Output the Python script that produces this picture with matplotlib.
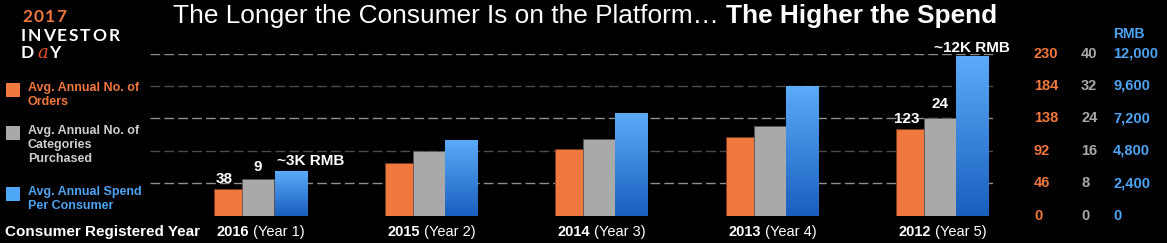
import numpy as np
import matplotlib.pyplot as plt
from matplotlib.colors import LinearSegmentedColormap
from matplotlib.transforms import blended_transform_factory

plt.rcParams['font.family'] = ['Liberation Sans', 'DejaVu Sans']

years = ['2016', '2015', '2014', '2013', '2012']
year_no = ['(Year 1)', '(Year 2)', '(Year 3)', '(Year 4)', '(Year 5)']
orders = [38, 75, 94, 111, 123]
categories = [9, 16, 19, 22, 24]
spend = [3300, 5600, 7600, 9600, 11800]

orders_ticks = [0, 46, 92, 138, 184, 230]
cat_ticks = [0, 8, 16, 24, 32, 40]
spend_ticks = [0, 2400, 4800, 7200, 9600, 12000]
spend_tick_labels = ['0', '2,400', '4,800', '7,200', '9,600', '12,000']

ORANGE = '#f0773e'
GRAY = '#a8a9a8'
BLUE_TXT = '#4fa3f3'

fig = plt.figure(figsize=(11.67, 2.43), dpi=100)
fig.patch.set_facecolor('black')

ax = fig.add_axes([150 / 1167, 1 - 215.7 / 243, 843 / 1167, 162.2 / 243])
ax.set_facecolor('black')
ax2 = ax.twinx()
ax3 = ax.twinx()

x = np.arange(len(years))
w = 0.188
xlim = (-0.635, 4.311)

# grid lines, alternating shades
for i, t in enumerate(orders_ticks[1:]):
    c = '#8e8e8e' if i % 2 == 0 else '#4c4c4c'
    ax.axhline(t, color=c, lw=1, dashes=(7, 3), zorder=0)

ax.bar(x - 0.164, orders, w, color=ORANGE, edgecolor='#7a3a1c', lw=0.6, zorder=2)
ax2.bar(x, categories, w, color=GRAY, edgecolor='#555555', lw=0.6, zorder=2)

cmap = LinearSegmentedColormap.from_list('bl', ['#1a5fbf', '#5aabf8'])
grad = np.linspace(0, 1, 100).reshape(-1, 1)
for xi, v in zip(x + 0.1895, spend):
    ax3.imshow(grad, extent=(xi - w / 2, xi + w / 2, 0, v), origin='lower',
               aspect='auto', cmap=cmap, zorder=2)

ax.set_ylim(0, orders_ticks[-1])
ax2.set_ylim(0, cat_ticks[-1])
ax3.set_ylim(0, spend_ticks[-1])
for a in (ax, ax2, ax3):
    a.set_xlim(*xlim)
    a.set_xticks([])
    a.set_yticks([])
    for s in a.spines.values():
        s.set_visible(False)

# value labels
lbl = dict(color='white', fontsize=11, fontweight='bold', ha='center', va='bottom',
           textcoords='offset points', annotation_clip=False)
ax.annotate(str(orders[0]), (x[0] - 0.2, orders[0]), xytext=(0, 2), **lbl)
ax2.annotate(str(categories[0]), (x[0], categories[0]), xytext=(0, 4), **lbl)
ax3.annotate('~3K RMB', (x[0] + 0.31, spend[0]), xytext=(0, 2), **lbl)
ax.annotate(str(orders[-1]), (x[-1] - 0.195, orders[-1]), xytext=(0, 2), **lbl)
ax2.annotate(str(categories[-1]), (x[-1], categories[-1]), xytext=(0, 5), **lbl)
ax3.annotate('~12K RMB', (x[-1] + 0.19, spend[-1]), xytext=(0, 1), **lbl)

# right-hand tick columns
for a, ticks, labs, fx, col in [
        (ax, orders_ticks, [str(t) for t in orders_ticks], 1034, ORANGE),
        (ax2, cat_ticks, [str(t) for t in cat_ticks], 1081, GRAY),
        (ax3, spend_ticks, spend_tick_labels, 1113, BLUE_TXT)]:
    tr = blended_transform_factory(fig.transFigure, a.transData)
    for t, s in zip(ticks, labs):
        fig.text(fx / 1167, t, s, transform=tr, color=col, fontsize=10.5,
                 fontweight='bold', ha='left', va='center')
fig.text(1113 / 1167, 1 - 34 / 243, 'RMB', color=BLUE_TXT, fontsize=10,
         fontweight='bold', ha='left', va='center')

# x labels
tr = blended_transform_factory(ax.transData, ax.transAxes)
for xi, yr, yn in zip(x, years, year_no):
    t1 = ax.text(xi - 0.053, -0.1, yr, transform=tr, color='white', fontsize=10.5,
                 fontweight='bold', ha='right', va='center')
    ax.annotate(' ' + yn, xy=(1, 0), xycoords=t1, color='white', fontsize=10.5,
                ha='left', va='bottom')
fig.text(5 / 1167, 1 - 232 / 243, 'Consumer Registered Year', color='white',
         fontsize=11, fontweight='bold', ha='left', va='center')

# title
t = fig.text(173 / 1167, 1 - 16 / 243, 'The Longer the Consumer Is on the Platform\u2026 ',
             color='white', fontsize=18.9, ha='left', va='center')
fig.add_artist(plt.Annotation('The Higher the Spend', xy=(1, 0), xycoords=t,
                              color='white', fontsize=18.9, fontweight='bold',
                              ha='left', va='bottom'))


# logo, letter-spaced
def spaced(word, x0, y0, color, size, gap=1.6):
    prev = fig.text(x0, y0, word[0], color=color, fontsize=size, family='Lato',
                    fontweight='bold', ha='left', va='center')
    for ch in word[1:]:
        prev = fig.add_artist(plt.Annotation(ch, xy=(1, 0), xycoords=prev,
                                             xytext=(gap, 0), textcoords='offset points',
                                             color=color, fontsize=size, family='Lato',
                                             fontweight='bold', ha='left', va='bottom'))
    return prev


spaced('2017', 22 / 1167, 1 - 17 / 243, ORANGE, 12.5, gap=1.0)
spaced('INVESTOR', 21 / 1167, 1 - 35.5 / 243, 'white', 12.5, gap=1.3)
d = fig.text(21 / 1167, 1 - 53.5 / 243, 'D', color='white', fontsize=12.5,
             family='Lato', fontweight='bold', ha='left', va='center')
a_ = fig.add_artist(plt.Annotation('a', xy=(1, 0), xycoords=d, xytext=(2, 0),
                                   textcoords='offset points', color='#e8502a',
                                   fontsize=13, style='italic', family='DejaVu Serif',
                                   ha='left', va='bottom'))
fig.add_artist(plt.Annotation('Y', xy=(1, 0), xycoords=a_, xytext=(1, 0),
                              textcoords='offset points', color='white', fontsize=12.5,
                              family='Lato', fontweight='bold', ha='left', va='bottom'))

# legend
leg = [(ORANGE, ORANGE, 'Avg. Annual No. of\nOrders', 83),
       (GRAY, '#cfcfcf', 'Avg. Annual No. of\nCategories\nPurchased', 126),
       ('#4ea6f6', BLUE_TXT, 'Avg. Annual Spend\nPer Consumer', 187)]
for fc, tc, txt, ytop in leg:
    fig.patches.append(plt.Rectangle((6 / 1167, 1 - (ytop + 14) / 243), 14 / 1167,
                                     14 / 243, transform=fig.transFigure,
                                     facecolor=fc, figure=fig))
    fig.text(28 / 1167, 1 - (ytop - 1) / 243, txt, color=tc, fontsize=9,
             fontweight='bold', ha='left', va='top', linespacing=1.25)

fig.savefig('out.png', dpi=100, facecolor='black')
